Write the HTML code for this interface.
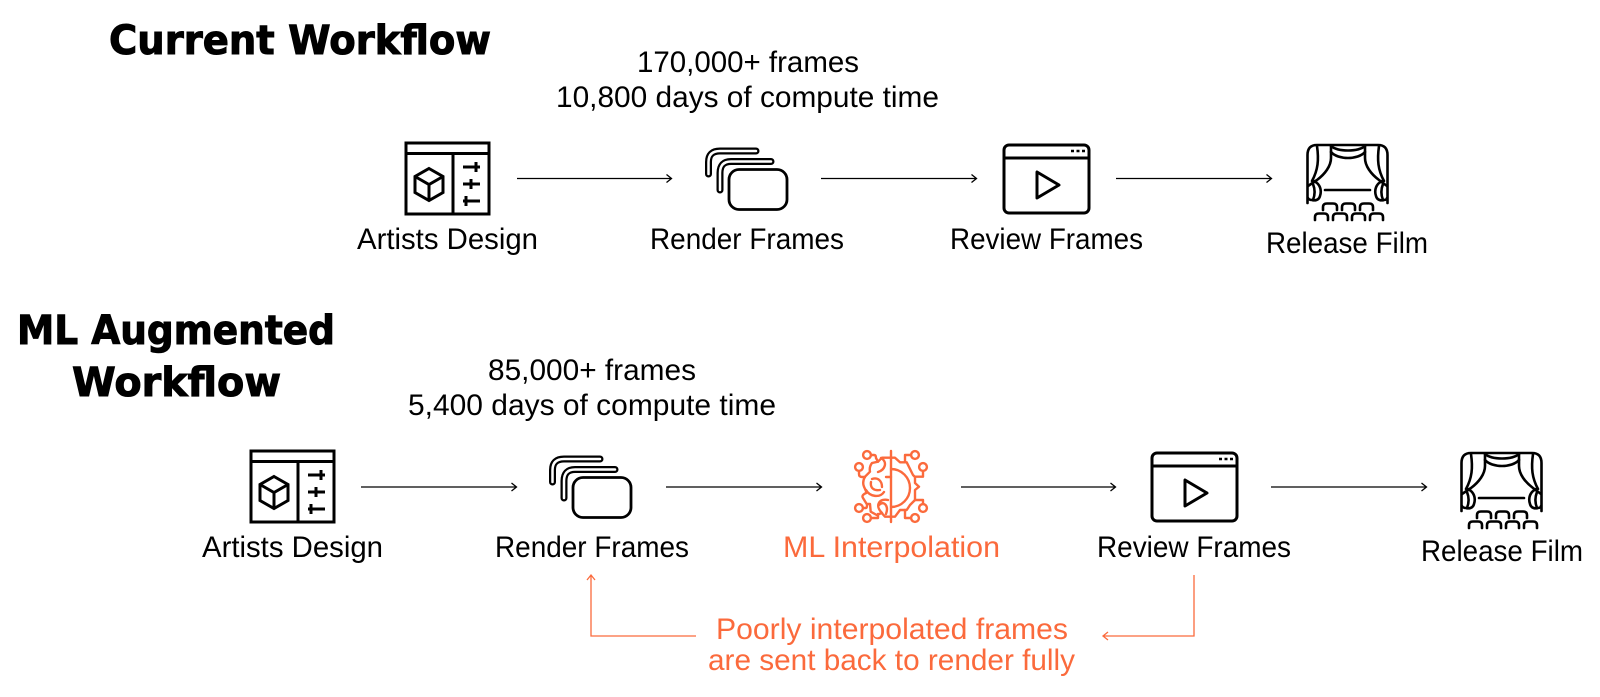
<!DOCTYPE html>
<html>
<head>
<meta charset="utf-8">
<style>
html,body{margin:0;padding:0;background:#fff;width:1600px;height:697px;overflow:hidden}
svg{display:block}
text{font-family:"Liberation Sans",sans-serif;font-size:30px;fill:#000}
.t{font-family:"DejaVu Sans",sans-serif;font-size:40px;font-weight:bold;stroke:#000;stroke-width:1px}
.o{fill:#fb6a3c}
</style>
</head>
<body>
<svg width="1600" height="697" viewBox="0 0 1600 697" xmlns="http://www.w3.org/2000/svg">
<defs>
  <g id="design" fill="none" stroke="#000" stroke-width="3">
    <rect x="406" y="143" width="83" height="71"/>
    <path d="M406 153.500H489M453 153.500V214"/>
    <path d="M429 168.500L443 176.500V192.500L429 200.500L415 192.500V176.500ZM415 176.500L429 184.500L443 176.500M429 184.500V200.500"/>
    <path d="M463 167H480M476 162V172M463 184H480M471 179V189M463 201H480M466 196V206"/>
  </g>
  <g id="frames" fill="none" stroke-linecap="round" stroke-linejoin="round">
    <path d="M708.500 174V162Q708.500 151 720 151H756" stroke="#000" stroke-width="7"/>
    <path d="M708.500 174V162Q708.500 151 720 151H756" stroke="#fff" stroke-width="2.500"/>
    <path d="M720 190V173Q720 161.500 731 161.500H771" stroke="#000" stroke-width="7"/>
    <path d="M720 190V173Q720 161.500 731 161.500H771" stroke="#fff" stroke-width="2.500"/>
    <rect x="729" y="169.500" width="58" height="40" rx="10" fill="#fff" stroke="#000" stroke-width="2.800"/>
  </g>
  <g id="review" fill="none" stroke="#000" stroke-width="3">
    <rect x="1004" y="145" width="85" height="68" rx="5"/>
    <path d="M1004 158H1089"/>
    <path d="M1037 172V198L1059 185Z" stroke-linejoin="round"/>
    <path d="M1071 151H1074M1076.500 151H1079.500M1082 151H1085" stroke-width="2.500"/>
  </g>
  <g id="stage" fill="none" stroke="#000" stroke-width="2.600" stroke-linejoin="round" stroke-linecap="round">
    <path d="M1307.500 203V155Q1307.500 145 1317 145H1378Q1387.500 145 1387.500 155V203"/>
    <path d="M1325 190H1370"/>
    <path d="M1331 146C1338 152 1358 152 1365 146M1331 152C1338 160 1358 160 1365 152"/>
    <path d="M1331 146V158C1331 166 1325 174 1317 180L1308 186"/>
    <path d="M1317 146C1319 160 1318 170 1312 181"/>
    <path d="M1365 146V158C1365 166 1371 174 1379 180L1387 186"/>
    <path d="M1379 146C1377 160 1378 170 1384 181"/>
    <path d="M1314 181C1320 184 1322 190 1320 196C1319 200 1315 201 1312 200C1310 200 1308 199 1308 198M1313 184C1315 189 1315 195 1313 200"/>
    <path d="M1382 181C1376 184 1374 190 1376 196C1377 200 1381 201 1384 200C1386 200 1387 199 1387 198M1383 184C1381 189 1381 195 1383 200"/>
    <path d="M1323 210V207Q1323 203.500 1327 203.500H1333Q1337 203.500 1337 207V210M1342 210V207Q1342 203.500 1346 203.500H1351Q1355 203.500 1355 207V210M1360 210V207Q1360 203.500 1364 203.500H1369Q1373 203.500 1373 207V210"/>
    <path d="M1315 220V217Q1315 213.500 1319 213.500H1324Q1328 213.500 1328 217V220M1333 220V217Q1333 213.500 1337 213.500H1343Q1347 213.500 1347 217V220M1352 220V217Q1352 213.500 1356 213.500H1361Q1365 213.500 1365 217V220M1370 220V217Q1370 213.500 1374 213.500H1379Q1383 213.500 1383 217V220"/>
  </g>
</defs>

<!-- Titles -->
<text class="t" x="109" y="54" textLength="382" lengthAdjust="spacingAndGlyphs">Current Workflow</text>
<text class="t" x="17" y="344" textLength="318" lengthAdjust="spacingAndGlyphs">ML Augmented</text>
<text class="t" x="72" y="396" textLength="209" lengthAdjust="spacingAndGlyphs">Workflow</text>

<!-- Row 1 captions -->
<text x="637" y="72" textLength="222" lengthAdjust="spacingAndGlyphs">170,000+ frames</text>
<text x="556" y="107" textLength="383" lengthAdjust="spacingAndGlyphs">10,800 days of compute time</text>

<!-- Row 1 icons -->
<use href="#design"/>
<use href="#frames"/>
<use href="#review"/>
<use href="#stage"/>

<!-- Row 1 arrows -->
<g fill="none" stroke="#000" stroke-width="1.300">
  <path d="M517 178.500H671.500M666.500 174.500L671.500 178.500L666.500 182.500"/>
  <path d="M821 178.500H976.500M971.500 174.500L976.500 178.500L971.500 182.500"/>
  <path d="M1116 178.500H1271.500M1266.500 174.500L1271.500 178.500L1266.500 182.500"/>
</g>

<!-- Row 1 labels -->
<text x="357" y="249" textLength="181" lengthAdjust="spacingAndGlyphs">Artists Design</text>
<text x="650" y="249" textLength="194" lengthAdjust="spacingAndGlyphs">Render Frames</text>
<text x="950" y="249" textLength="193" lengthAdjust="spacingAndGlyphs">Review Frames</text>
<text x="1266" y="253" textLength="162" lengthAdjust="spacingAndGlyphs">Release Film</text>

<!-- Row 2 captions -->
<text x="488" y="380" textLength="208" lengthAdjust="spacingAndGlyphs">85,000+ frames</text>
<text x="408" y="415" textLength="368" lengthAdjust="spacingAndGlyphs">5,400 days of compute time</text>

<!-- Row 2 icons -->
<use href="#design" transform="translate(-155,308)"/>
<use href="#frames" transform="translate(-156,308)"/>
<use href="#review" transform="translate(148,308)"/>
<use href="#stage" transform="translate(154,308)"/>

<!-- Brain -->
<g fill="none" stroke="#fb6a3c" stroke-width="2.400" stroke-linecap="round" stroke-linejoin="round">
  <path d="M891 451V522"/>
  <path d="M891 469A19 19 0 0 1 891 507"/>
  <path d="M890 457.700H882L878 461.700L872 463Q869 467 870 471.700L865 476.700Q862 482 864 486.700L866.700 492.700Q861 495 863 498L866.700 504H870L870.700 511.700L876.700 515L881.700 513L885 516.700H890"/>
  <path d="M881 458C888 462 885 470 878 472M872 479C878 477 882 481 882 487M871 482C870 488 874 491 880 490M866 490C870 497 880 498 884 492M882 513C874 505 880 498 888 500M879 505C884 500 889 506 886 514M886 477H891"/>
  <circle cx="867" cy="455" r="3.900"/>
  <circle cx="859" cy="467" r="3.900"/>
  <circle cx="859" cy="508" r="3.900"/>
  <circle cx="867" cy="518" r="3.900"/>
  <path d="M871 455H874Q876 455 876 458L878 461.700M859 471V474Q859 477 862 477H865M863 508H866Q867 508 867 505M871 518H878V514"/>
  <circle cx="915" cy="455" r="3.900"/>
  <circle cx="923" cy="467" r="3.900"/>
  <circle cx="923" cy="508" r="3.900"/>
  <circle cx="915" cy="518" r="3.900"/>
  <path d="M891 457.700H895L900 462.300H906.700L913 475L915 477V483L919 486.700L915 490V500L910 505L906.700 510H900L895 516.700H891"/>
  <path d="M905 462V455H911M915 476.700H923V471M915 500H923V504M905 510V518H911"/>
</g>

<!-- Row 2 arrows -->
<g fill="none" stroke="#000" stroke-width="1.300">
  <path d="M361 487H516.500M511.500 483L516.500 487L511.500 491"/>
  <path d="M666 487H821.500M816.500 483L821.500 487L816.500 491"/>
  <path d="M961 487H1115.500M1110.500 483L1115.500 487L1110.500 491"/>
  <path d="M1271 487H1426.500M1421.500 483L1426.500 487L1421.500 491"/>
</g>

<!-- Row 2 labels -->
<text x="202" y="557" textLength="181" lengthAdjust="spacingAndGlyphs">Artists Design</text>
<text x="495" y="557" textLength="194" lengthAdjust="spacingAndGlyphs">Render Frames</text>
<text class="o" x="783" y="557" textLength="217" lengthAdjust="spacingAndGlyphs">ML Interpolation</text>
<text x="1097" y="557" textLength="194" lengthAdjust="spacingAndGlyphs">Review Frames</text>
<text x="1421" y="561" textLength="162" lengthAdjust="spacingAndGlyphs">Release Film</text>

<!-- Feedback -->
<g fill="none" stroke="#fb6a3c" stroke-width="1.300">
  <path d="M696 636H591V575M587 580L591 575L595 580"/>
  <path d="M1194 575V636H1103M1108 632L1103 636L1108 640"/>
</g>
<text class="o" x="716" y="639" textLength="352" lengthAdjust="spacingAndGlyphs">Poorly interpolated frames</text>
<text class="o" x="708" y="670" textLength="367" lengthAdjust="spacingAndGlyphs">are sent back to render fully</text>
</svg>
</body>
</html>
